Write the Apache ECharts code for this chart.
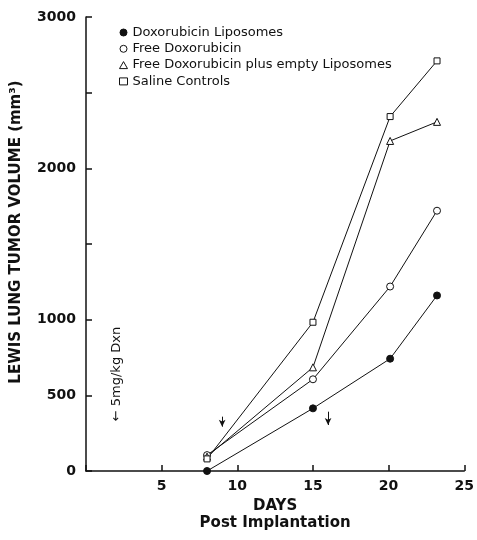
<!DOCTYPE html>
<html>
<head>
<meta charset="utf-8">
<script src="https://cdn.jsdelivr.net/npm/echarts@6/dist/echarts.min.js"></script>
<style>
  html, body { margin: 0; padding: 0; background: #fff; }
  #chart { width: 477px; height: 540px; }
</style>
</head>
<body>
<div id="chart"></div>
<script>
// days post implantation (same for every group)
const days = [8, 15, 20.1, 23.2]

// tumor volume, mm3
const dxLiposomes = [0, 414, 742, 1160]
const freeDox = [105, 606, 1219, 1720]
const freeDoxEmptyLipo = [95, 685, 2181, 2307]
const salineControls = [80, 983, 2342, 2710]

const seriesNames = [
  'Doxorubicin Liposomes',
  'Free Doxorubicin',
  'Free Doxorubicin plus empty Liposomes',
  'Saline Controls'
]

// dosing arrows: [day, from value, to value]
const doseArrows = [[9, 359, 293], [16, 392, 304]]
const doseNote = { day: 2, value: 641, text: '← 5mg/kg Dxn' }

const yLabelsShown = [0, 500, 1000, 2000, 3000]

const INK = '#111'
const FONT = 'DejaVu Sans'

const markers = [
  { symbol: 'circle', fill: INK, size: 7 },
  { symbol: 'circle', fill: '#fff', size: 7 },
  { symbol: 'triangle', fill: '#fff', size: 7 },
  { symbol: 'rect', fill: '#fff', size: 6 }
]

const groups = [dxLiposomes, freeDox, freeDoxEmptyLipo, salineControls]

const chart = echarts.init(document.getElementById('chart'))

const series = groups.map((vals, i) => ({
  name: seriesNames[i],
  type: 'line',
  data: days.map((d, k) => [d, vals[k]]),
  symbol: markers[i].symbol,
  symbolSize: markers[i].size,
  showAllSymbol: true,
  lineStyle: { color: INK, width: 1 },
  itemStyle: { color: markers[i].fill, borderColor: INK, borderWidth: 1 },
  emphasis: { disabled: true }
}))

series[0].markLine = {
  silent: true,
  symbol: ['none', 'arrow'],
  symbolSize: [5, 7],
  label: { show: false },
  lineStyle: { color: INK, width: 1, type: 'solid' },
  data: doseArrows.map(([d, a, b]) => [{ coord: [d, a] }, { coord: [d, b] }])
}

chart.setOption({
  animation: false,
  backgroundColor: '#fff',
  grid: { left: 86, right: 9, top: 17, bottom: 69 },

  legend: {
    orient: 'vertical',
    left: 114,
    top: 21,
    itemWidth: 8,
    itemHeight: 7,
    itemGap: 3.3,
    selectedMode: false,
    textStyle: { fontFamily: FONT, fontSize: 13, color: INK },
    data: seriesNames.map((n, i) => ({
      name: n,
      icon: markers[i].symbol,
      itemStyle: { color: markers[i].fill, borderColor: INK, borderWidth: 1 }
    }))
  },

  xAxis: {
    type: 'value',
    min: 0,
    max: 25,
    interval: 5,
    axisLine: { show: true, lineStyle: { color: INK, width: 1.5 } },
    axisTick: { show: true, inside: true, length: 6, lineStyle: { color: INK, width: 1.5 } },
    splitLine: { show: false },
    axisLabel: {
      margin: 8,
      color: INK,
      fontFamily: FONT,
      fontWeight: 'bold',
      fontSize: 14,
      formatter: v => (v === 0 ? '' : String(v))
    },
    name: 'DAYS\nPost Implantation',
    nameLocation: 'middle',
    nameGap: 22,
    nameTextStyle: {
      color: INK,
      fontFamily: FONT,
      fontWeight: 'bold',
      fontSize: 15,
      lineHeight: 17,
      verticalAlign: 'top'
    }
  },

  yAxis: {
    type: 'value',
    min: 0,
    max: 3000,
    interval: 500,
    axisLine: { show: true, lineStyle: { color: INK, width: 1.5 } },
    axisTick: { show: true, inside: true, length: 6, lineStyle: { color: INK, width: 1.5 } },
    splitLine: { show: false },
    axisLabel: {
      margin: 10,
      color: INK,
      fontFamily: FONT,
      fontWeight: 'bold',
      fontSize: 14,
      formatter: v => (yLabelsShown.includes(v) ? String(v) : '')
    },
    name: 'LEWIS LUNG TUMOR VOLUME (mm³)',
    nameLocation: 'middle',
    nameRotate: 90,
    nameGap: 62,
    nameTextStyle: {
      color: INK,
      fontFamily: FONT,
      fontWeight: 'bold',
      fontSize: 15,
      padding: [0, 0, 0, 24]
    }
  },

  series
})

// rotated dosing note, placed through the grid's own scale
const [nx, ny] = chart.convertToPixel({ gridIndex: 0 }, [doseNote.day, doseNote.value])
chart.setOption({
  graphic: [{
    type: 'text',
    x: nx,
    y: ny,
    rotation: Math.PI / 2,
    style: {
      text: doseNote.text,
      font: '13px "DejaVu Sans"',
      fill: INK,
      align: 'center',
      verticalAlign: 'middle'
    }
  }]
})
</script>
</body>
</html>
